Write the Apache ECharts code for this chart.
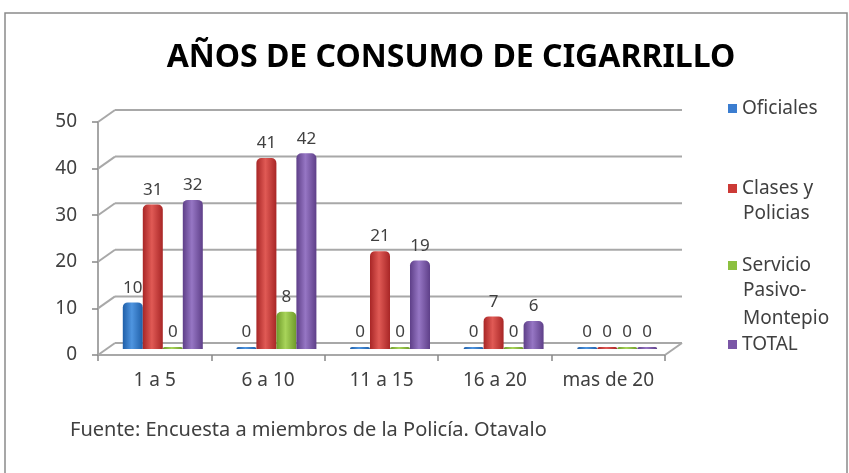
<!DOCTYPE html>
<html><head><meta charset="utf-8">
<script src="https://cdn.jsdelivr.net/npm/echarts@6/dist/echarts.min.js"></script>
<style>html,body{margin:0;padding:0;background:#fff}#c{width:849px;height:473px}</style>
</head><body><div id="c"></div>
<script>
const categories = ['1 a 5', '6 a 10', '11 a 15', '16 a 20', 'mas de 20'];
const oficiales = [10, 0, 0, 0, 0];
const clases = [31, 41, 21, 7, 0];
const servicio = [0, 8, 0, 0, 0];
const total = [32, 42, 19, 6, 0];
const yTicks = [0, 10, 20, 30, 40, 50];
const seriesNames = ['Oficiales', 'Clases y Policias', 'Servicio Pasivo-Montepio', 'TOTAL'];
const legendFirstLines = ['Oficiales', 'Clases y', 'Servicio', 'TOTAL'];

const FONT = '"Noto Sans", sans-serif';
const TXT = '#404040';
const GRIDC = '#a8a8a8';
const DX = 17, DY = -12;

function cyl(dark, light) {
  return new echarts.graphic.LinearGradient(0, 0, 1, 0, [
    {offset: 0, color: dark}, {offset: 0.45, color: light}, {offset: 1, color: dark}
  ]);
}
const colors = [
  cyl('#1f5fa8', '#4f95e0'),
  cyl('#a82626', '#e05a55'),
  cyl('#6e9a2a', '#a8d45a'),
  cyl('#5e3f88', '#9676c4')
];
const flat = ['#3b7dd0', '#cc3a36', '#8cc040', '#7a56a6'];
const values = [oficiales, clases, servicio, total];

const chart = echarts.init(document.getElementById('c'));

const barSeries = values.map((v, i) => ({
  name: seriesNames[i], type: 'bar', xAxisIndex: 1, yAxisIndex: 1,
  data: v, barWidth: 20, barGap: '0%', barMinHeight: 2,
  itemStyle: {color: colors[i], borderRadius: [5, 5, 0, 0]},
  label: {show: true, position: 'top', distance: 6, color: TXT, fontFamily: FONT, fontSize: 17},
  z: 5
}));

const legends = legendFirstLines.map((t, i) => ({
  show: true, data: [seriesNames[i]], left: 723, top: [94, 174, 251, 330][i],
  icon: 'rect', itemWidth: 9, itemHeight: 9, itemGap: 0,
  formatter: () => t,
  textStyle: {color: TXT, fontFamily: FONT, fontSize: 19},
  itemStyle: {color: flat[i]}, selectedMode: false
}));

const option = {
  animation: false,
  backgroundColor: '#fff',
  title: {
    text: 'AÑOS DE CONSUMO DE CIGARRILLO', left: 446, textAlign: 'center', top: 37,
    textStyle: {fontFamily: FONT, fontWeight: 'bold', fontSize: 32, color: '#000'}
  },
  legend: legends,
  grid: [
    {left: 98, right: 184, top: 122, bottom: 118},
    {left: 106, right: 175, top: 116, bottom: 124}
  ],
  xAxis: [
    {type: 'category', gridIndex: 0, data: categories,
     axisLine: {lineStyle: {color: GRIDC, width: 2}},
     axisTick: {show: true, interval: 0, length: 6, lineStyle: {color: '#888', width: 1.5}},
     axisLabel: {interval: 0, margin: 16, color: TXT, fontFamily: FONT, fontSize: 19}},
    {type: 'category', gridIndex: 1, data: categories, show: false}
  ],
  yAxis: [
    {type: 'value', gridIndex: 0, min: 0, max: 50, interval: 10,
     axisLine: {show: true, lineStyle: {color: '#888', width: 1.5}},
     axisTick: {show: true, length: 6, lineStyle: {color: '#888', width: 1.5}},
     axisLabel: {margin: 21, color: TXT, fontFamily: FONT, fontSize: 19},
     splitLine: {show: false}},
    {type: 'value', gridIndex: 1, min: 0, max: 50, interval: 10, show: false, splitLine: {show: false}}
  ],
  graphic: [
    {type: 'rect', shape: {x: 5, y: 13, width: 842, height: 470},
     style: {fill: 'none', stroke: '#8a8a8a', lineWidth: 1.5}, z: -10},
    {type: 'text', left: 743, top: 204, style: {text: 'Policias', fill: TXT, font: '19px ' + FONT}},
    {type: 'text', left: 743, top: 281, style: {text: 'Pasivo-', fill: TXT, font: '19px ' + FONT}},
    {type: 'text', left: 743, top: 309, style: {text: 'Montepio', fill: TXT, font: '19px ' + FONT}},
    {type: 'text', left: 70, top: 420, style: {text: 'Fuente: Encuesta a miembros de la Policía. Otavalo', fill: TXT, font: '20px ' + FONT}}
  ],
  series: [
    {
      type: 'custom', xAxisIndex: 0, yAxisIndex: 0, data: [0], silent: true, z: 1,
      renderItem: function (params, api) {
        const bw = api.size([1, 0])[0];
        const children = [];
        const ls = {stroke: GRIDC, lineWidth: 2};
        yTicks.forEach(v => {
          const p0 = api.coord([0, v]);
          const p4 = api.coord([categories.length - 1, v]);
          const xl = p0[0] - bw / 2, xr = p4[0] + bw / 2, y = p0[1];
          children.push({type: 'line', shape: {x1: xl, y1: y, x2: xl + DX, y2: y + DY}, style: ls});
          children.push({type: 'line', shape: {x1: xl + DX, y1: y + DY, x2: xr + DX, y2: y + DY}, style: ls});
          if (v === 0) {
            children.push({type: 'line', shape: {x1: xr, y1: y, x2: xr + DX, y2: y + DY}, style: ls});
          }
        });
        return {type: 'group', children: children};
      }
    }
  ].concat(barSeries)
};
chart.setOption(option);
</script>
</body></html>
